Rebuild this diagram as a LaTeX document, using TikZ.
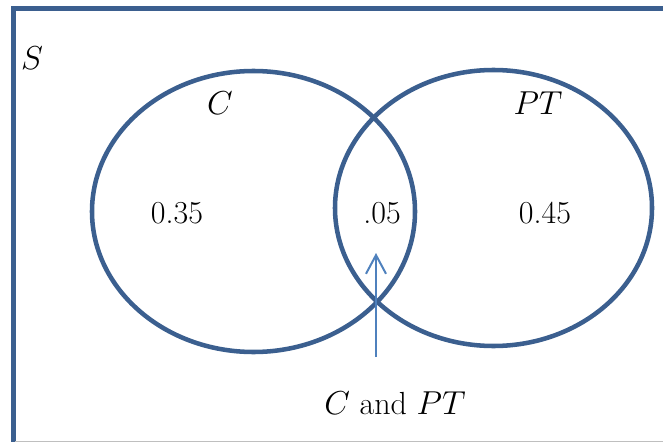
\documentclass[tikz,border=0pt]{standalone}
\usetikzlibrary{arrows.meta}
\definecolor{setblue}{HTML}{3B5F8F}
\definecolor{arrowblue}{HTML}{4F81BD}
\begin{document}
\begin{tikzpicture}[x = 0.75pt, y = -0.75pt, font = \fontsize{24}{28}\selectfont]
\useasboundingbox (0,0) rectangle (663,442);
\draw[line width = 3.75pt, setblue] (13,442) -- (13,8.5) -- (663,8.5);
\draw[line width = 0.75pt, gray!50] (15,441.5) -- (663,441.5);
\draw[line width = 3.4pt, setblue] (253.5,211.5) ellipse [x radius = 161.5, y radius = 140.5];
\draw[line width = 3.4pt, setblue] (493.5,208) ellipse [x radius = 158.5, y radius = 138];
\node at (32,58) (s) {$S$};
\node at (220,103) (c) {$C$};
\node at (538,103) (pt) {$PT$};
\node at (177,213) (p1) {0.35};
\node at (382,213) (p2) {.05};
\node at (545,213) (p3) {0.45};
\node at (395,403) (both) {$C$ and $PT$};
\coordinate (tail) at (376,357);
\coordinate (tip) at (376,253);
\draw[-{Straight Barb[length = 14pt, width = 15pt]}, line width = 1.5pt, arrowblue] (tail) -- (tip);
\end{tikzpicture}
\end{document}
